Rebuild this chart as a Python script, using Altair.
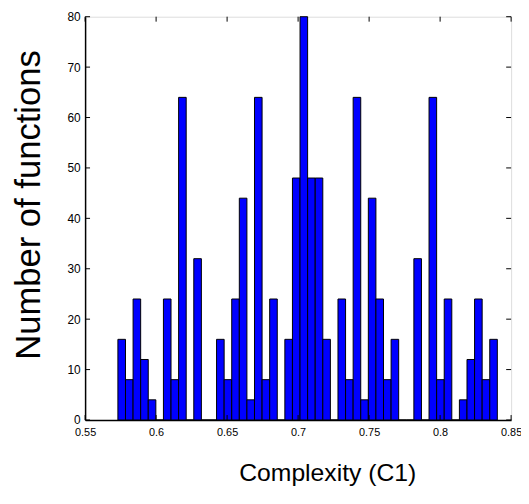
import altair as alt
import numpy as np
import pandas as pd

# Histogram counts (50 bins)
counts = [16, 8, 24, 12, 4, 0, 24, 8, 64, 0,
          32, 0, 0, 16, 8, 24, 44, 4, 64, 8,
          24, 0, 16, 48, 80, 48, 48, 16, 0, 24,
          8, 64, 4, 44, 24, 8, 16, 0, 0, 32,
          0, 64, 8, 24, 0, 4, 12, 24, 8, 16]
data_min = 0.5731
data_max = 0.8403
x_ticks = [0.55, 0.6, 0.65, 0.7, 0.75, 0.8, 0.85]
y_ticks = [0, 10, 20, 30, 40, 50, 60, 70, 80]

edges = np.linspace(data_min, data_max, len(counts) + 1)
df = pd.DataFrame({"x0": edges[:-1], "x1": edges[1:], "count": counts})
xt = pd.DataFrame({"t": x_ticks})
yt = pd.DataFrame({"t": y_ticks})

W, H = 431, 408
FONT = "Liberation Sans"

xscale = alt.Scale(domain=[0.55, 0.85], nice=False, zero=False)
yscale = alt.Scale(domain=[0, 80], nice=False)

bars = alt.Chart(df).mark_rect(color="#0000FF", stroke="black", strokeWidth=1).encode(
    x=alt.X("x0:Q", scale=xscale,
            axis=alt.Axis(values=x_ticks, format="~g", title="Complexity (C1)",
                          grid=False, tickSize=0, labelPadding=7, labelFlush=False,
                          labelFont=FONT, labelFontSize=11, labelColor="black",
                          titleFont=FONT, titleFontSize=25, titleFontWeight="normal",
                          titleColor="black", titleX=245, titleY=61,
                          titleBaseline="alphabetic", titleAlign="center",
                          domainColor="black", domainWidth=1.5)),
    x2="x1:Q",
    y=alt.Y("count:Q", scale=yscale,
            axis=alt.Axis(values=y_ticks, title="Number of functions",
                          grid=False, tickSize=0, labelPadding=5, labelFlush=False,
                          labelFont=FONT, labelFontSize=12, labelColor="black",
                          titleFont=FONT, titleFontSize=35, titleFontWeight="normal",
                          titleColor="black", titleAngle=-90, titleX=-46, titleY=190,
                          titleBaseline="alphabetic", titleAlign="center",
                          domainColor="black", domainWidth=1.5)),
    y2=alt.datum(0),
)

tb = alt.Chart(xt).mark_rule(color="black", strokeWidth=1).encode(
    x=alt.X("t:Q", scale=xscale), y=alt.value(H), y2=alt.value(H - 5))
tt = alt.Chart(xt).mark_rule(color="black", strokeWidth=1).encode(
    x=alt.X("t:Q", scale=xscale), y=alt.value(0), y2=alt.value(5))
tl = alt.Chart(yt).mark_rule(color="black", strokeWidth=1).encode(
    y=alt.Y("t:Q", scale=yscale), x=alt.value(0), x2=alt.value(5))
tr = alt.Chart(yt).mark_rule(color="black", strokeWidth=1).encode(
    y=alt.Y("t:Q", scale=yscale), x=alt.value(W), x2=alt.value(W - 5))

chart = alt.layer(bars, tb, tt, tl, tr).properties(
    width=W, height=H,
    autosize=alt.AutoSizeParams(type="none"),
    padding={"left": 78, "top": 6, "right": 10, "bottom": 66},
).configure_view(stroke="black", strokeWidth=1).configure(background="white")

chart.save("out.html", embed_options={"renderer": "svg", "actions": False})
